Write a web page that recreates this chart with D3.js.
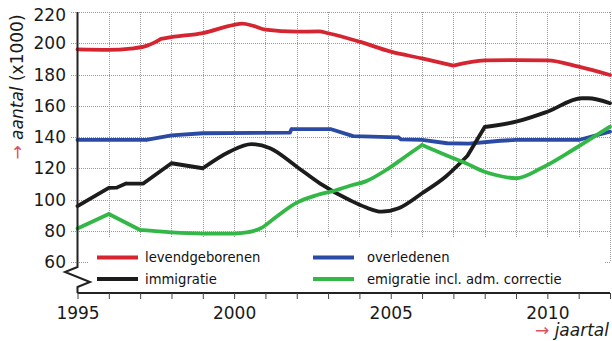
<!DOCTYPE html>
<html>
<head>
<meta charset="utf-8">
<script src="https://cdn.jsdelivr.net/npm/d3@7"></script>
<style>
  body { margin: 0; background: #fff; }
  svg { display: block; font-family: "DejaVu Sans", sans-serif; }
</style>
</head>
<body>
<svg id="chart" width="612" height="341"></svg>
<script>
// Population flows in the Netherlands (x1000), 1995-2012
const birthYears   = [1995, 1996, 1996.7, 1997.2, 1997.45, 1997.65, 1998, 1999, 2000, 2000.25, 2000.6, 2001, 2002, 2002.7, 2003, 2004, 2005, 2006, 2007, 2008, 2009, 2010, 2011, 2012];
const birthValues  = [196.1, 195.8, 196.6, 198.3, 200.4, 202.7, 203.9, 206.5, 211.8, 212.5, 211.2, 208.7, 207.4, 207.6, 206.4, 201.0, 194.6, 190.3, 185.7, 189.0, 189.2, 189.0, 185.0, 179.7];

const deathYears   = [1995, 1997.2, 1998, 1999, 2001.78, 2001.83, 2003.1, 2003.8, 2005.25, 2005.32, 2006, 2006.8, 2007.5, 2008.5, 2009, 2011, 2012];
const deathValues  = [138.1, 138.1, 141.0, 142.4, 142.8, 145.0, 145.0, 140.6, 139.8, 138.5, 138.1, 136.0, 135.8, 137.6, 138.1, 138.1, 143.4];

const immigYears   = [1995, 1996, 1996.25, 1996.55, 1997.1, 1998, 1999, 1999.85, 2000.55, 2001.15, 2002, 2002.75, 2003.7, 2004.2, 2004.7, 2005.25, 2006, 2006.75, 2007.45, 2008, 2009, 2010, 2011.1, 2011.3, 2012];
const immigValues  = [95.8, 107.5, 107.6, 110.2, 110.2, 123.2, 120.0, 130.6, 135.5, 132.8, 121.0, 110.2, 99.5, 95.0, 92.2, 94.4, 104.0, 114.6, 128.0, 146.4, 149.8, 156.2, 164.8, 164.8, 161.6];

const emigYears    = [1995, 1996, 1997, 1998, 1999, 2000, 2000.4, 2000.85, 2001.35, 2002, 2002.65, 2003.2, 2003.7, 2004.2, 2004.9, 2005.45, 2006, 2006.75, 2007.4, 2008, 2008.35, 2009, 2009.8, 2010.9, 2012];
const emigValues   = [81.5, 90.7, 80.5, 78.9, 78.2, 78.2, 78.9, 81.6, 89.0, 98.0, 102.9, 105.6, 108.8, 111.6, 119.5, 127.2, 134.9, 128.5, 123.2, 117.8, 115.7, 113.6, 120.0, 132.8, 146.6];

const legendNames  = ["levendgeborenen", "overledenen", "immigratie", "emigratie incl. adm. correctie"];
const seriesColors = ["#d52530", "#2b4aa3", "#1c1c1c", "#33b847"];

// years where a line has a kink instead of a smooth turn
const birthKinks = [1997.65, 2007];
const deathKinks = deathYears;
const immigKinks = [1996, 1996.25, 1996.55, 1997.1, 1998, 1999, 2007.45, 2008];
const emigKinks  = [1996, 1997, 2006];

const yTicks = [60, 80, 100, 120, 140, 160, 180, 200, 220];
const xTickLabels = [1995, 2000, 2005, 2010];

const svg = d3.select("#chart");
const x = d3.scaleLinear().domain([1995, 2012]).range([77.5, 610]);
const y = d3.scaleLinear().domain([60, 220]).range([262, 12]);
const axisY = 293;

// grid
const grid = svg.append("g").attr("stroke", "#9a9a9a").attr("stroke-width", 1).attr("stroke-dasharray", "1,1");
grid.selectAll("line.h").data(yTicks).join("line")
  .attr("x1", 71).attr("x2", 610)
  .attr("y1", d => Math.round(y(d)) + 0.5).attr("y2", d => Math.round(y(d)) + 0.5);
grid.selectAll("line.v").data(d3.range(1996, 2013)).join("line")
  .attr("x1", d => Math.round(x(d)) + 0.5).attr("x2", d => Math.round(x(d)) + 0.5)
  .attr("y1", 12).attr("y2", 262);

// series: smooth monotone pieces joined at kink years
const series = [
  [birthYears, birthValues, birthKinks],
  [deathYears, deathValues, deathKinks],
  [immigYears, immigValues, immigKinks],
  [emigYears, emigValues, emigKinks]
];
const line = d3.line().x(d => x(d[0])).y(d => y(d[1])).curve(d3.curveMonotoneX);
function piecewise(xs, vs, kinks) {
  const pts = d3.zip(xs, vs);
  const pieces = [];
  let cur = [pts[0]];
  for (let i = 1; i < pts.length; i++) {
    cur.push(pts[i]);
    if (i < pts.length - 1 && kinks.includes(xs[i])) { pieces.push(cur); cur = [pts[i]]; }
  }
  pieces.push(cur);
  return pieces.map(p => line(p)).join("");
}
svg.append("g").selectAll("path").data(series).join("path")
  .attr("fill", "none")
  .attr("stroke", (d, i) => seriesColors[i])
  .attr("stroke-width", 3.8)
  .attr("stroke-linejoin", "round")
  .attr("stroke-linecap", "round")
  .attr("d", d => piecewise(d[0], d[1], d[2]));

// legend
const lg = svg.append("g");
lg.append("rect").attr("x", 89).attr("y", 237).attr("width", 515).attr("height", 54).attr("fill", "#fff");
const legendPos = [[97, 257.5], [313, 257.5], [97, 279], [313, 279]];
legendNames.forEach((name, i) => {
  const [lx, ly] = legendPos[i];
  lg.append("line").attr("x1", lx).attr("x2", lx + 41).attr("y1", ly).attr("y2", ly)
    .attr("stroke", seriesColors[i]).attr("stroke-width", 3.8);
  lg.append("text").attr("x", lx + (i % 2 ? 54 : 48)).attr("y", ly).attr("dy", "0.35em")
    .attr("font-size", 13.2).attr("fill", "#111").text(name);
});

// y axis with break
svg.append("path")
  .attr("fill", "none").attr("stroke", "#222").attr("stroke-width", 2)
  .attr("d", `M77.5,12 L77.5,267 L65,272 L90,282 L77.5,287 L77.5,${axisY}`);
svg.append("g").selectAll("text").data(yTicks).join("text")
  .attr("x", 66).attr("y", d => Math.max(y(d), 15)).attr("dy", "0.36em")
  .attr("text-anchor", "end").attr("font-size", 17).attr("fill", "#1a1a1a")
  .text(d => d);

// x axis
const xAxis = d3.axisBottom(x).tickValues(d3.range(1995, 2013)).tickSize(6).tickFormat(d => xTickLabels.includes(d) ? d : "");
const gx = svg.append("g").attr("transform", `translate(0,${axisY})`).call(xAxis);
gx.select(".domain").attr("stroke", "#222").attr("stroke-width", 2).attr("d", "M77.5,0H610");
gx.selectAll(".tick line").attr("stroke", "#444");
gx.selectAll(".tick text").attr("font-size", 17).attr("font-family", "DejaVu Sans, sans-serif")
  .attr("fill", "#1a1a1a").attr("y", 0).attr("dy", 25.5);

// axis titles
const yt = svg.append("text").attr("transform", "translate(23,87) rotate(-90)")
  .attr("text-anchor", "middle").attr("font-size", 17).attr("fill", "#1a1a1a");
yt.append("tspan").attr("fill", "#e0505c").text("\u2192 ");
yt.append("tspan").attr("font-style", "italic").text("aantal");
yt.append("tspan").text(" (x1000)");

const xt = svg.append("text").attr("x", 609).attr("y", 336)
  .attr("text-anchor", "end").attr("font-size", 17).attr("fill", "#1a1a1a");
xt.append("tspan").attr("fill", "#e0505c").text("\u2192 ");
xt.append("tspan").attr("font-style", "italic").text("jaartal");
</script>
</body>
</html>
